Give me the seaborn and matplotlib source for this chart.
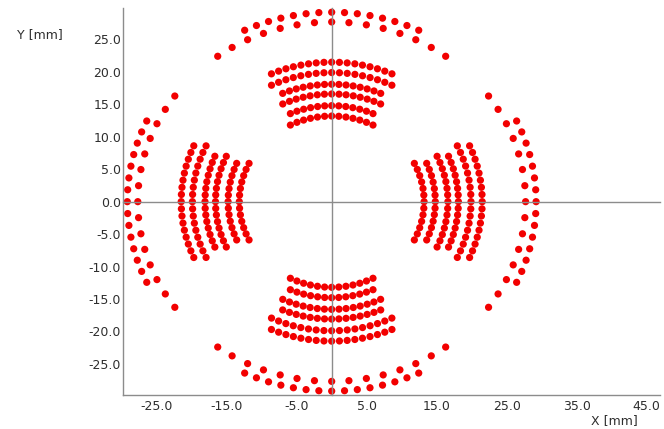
import numpy as np
import pandas as pd
import matplotlib
matplotlib.use("Agg")
import matplotlib.pyplot as plt
from matplotlib.ticker import FixedLocator, NullFormatter
import seaborn as sns

# Outer ring: two staggered rows of holes, one arc segment on each side
ring_outer_radius = 29.2
ring_outer_angles = [-25.2, -21.6, -18.0, -14.4, -10.8, -7.2, -3.6, 0.0,
                     3.6, 7.2, 10.8, 14.4, 18.0, 21.6, 25.2]
ring_inner_radius = 27.7
ring_inner_angles = [-36.0, -30.9, -25.7, -20.6, -15.4, -10.3, -5.1, 0.0,
                     5.1, 10.3, 15.4, 20.6, 25.7, 30.9, 36.0]

# Inner arc blocks: six rows each, outermost row first (angles in degrees)
arc_radii = [21.5, 19.9, 18.1, 16.6, 14.8, 13.2]
arc_angles = [
    [-23.6, -20.65, -17.7, -14.75, -11.8, -8.85, -5.9, -2.95, 0.0,
     2.95, 5.9, 8.85, 11.8, 14.75, 17.7, 20.65, 23.6],
    [-25.6, -22.4, -19.2, -16.0, -12.8, -9.6, -6.4, -3.2, 0.0,
     3.2, 6.4, 9.6, 12.8, 16.0, 19.2, 22.4, 25.6],
    [-22.75, -19.5, -16.25, -13.0, -9.75, -6.5, -3.25, 0.0,
     3.25, 6.5, 9.75, 13.0, 16.25, 19.5, 22.75],
    [-24.9, -21.3, -17.8, -14.2, -10.7, -7.1, -3.6, 0.0,
     3.6, 7.1, 10.7, 14.2, 17.8, 21.3, 24.9],
    [-23.5, -19.6, -15.7, -11.75, -7.8, -3.9, 0.0,
     3.9, 7.8, 11.75, 15.7, 19.6, 23.5],
    [-26.55, -22.1, -17.7, -13.3, -8.85, -4.4, 0.0,
     4.4, 8.85, 13.3, 17.7, 22.1, 26.55],
]

# The hole pattern repeats in four directions (degrees from +X)
group_directions = [0, 90, 180, 270]

x_major = [-25, -15, -5, 5, 15, 25, 35, 45]
x_major_labels = ["-25.0", "-15.0", "-5.0", "5.0", "15.0", "25.0", "35.0", "45.0"]
x_minor = [-20, -10, 0, 10, 20, 30, 40]
y_ticks = [-25, -20, -15, -10, -5, 0, 5, 10, 15, 20, 25]
y_labels = ["-25.0", "-20.0", "-15.0", "-10.0", "-5.0", "0.0",
            "5.0", "10.0", "15.0", "20.0", "25.0"]

# Collect all hole positions in polar form, then convert to X/Y in mm
records = []
for d in group_directions:
    for a in ring_outer_angles:
        records.append(("ring", ring_outer_radius, d + a))
    for a in ring_inner_angles:
        records.append(("ring", ring_inner_radius, d + a))
    for r, row in zip(arc_radii, arc_angles):
        for a in row:
            records.append(("arc", r, d + a))
holes = pd.DataFrame(records, columns=["group", "r", "theta"])
holes["x"] = holes["r"] * np.cos(np.deg2rad(holes["theta"]))
holes["y"] = holes["r"] * np.sin(np.deg2rad(holes["theta"]))

sns.set_style("white")
plt.rcParams["font.family"] = ["DejaVu Sans"]
plt.rcParams["axes.unicode_minus"] = False

W, H = 664, 429
fig = plt.figure(figsize=(W / 100, H / 100), dpi=100)
pos = [123.3 / W, 1 - 395 / H, (660 - 123.3) / W, (395 - 8) / H]
ax = fig.add_axes(pos)

dot_color = "#f20000"
sns.scatterplot(data=holes, x="x", y="y", color=dot_color, s=27,
                linewidth=0, edgecolor="none", legend=False, ax=ax,
                clip_on=False, zorder=2)

xlim = (-29.77, 46.9)
ylim = (-29.8, 29.85)
ax.set_xlim(*xlim)
ax.set_ylim(*ylim)
ax.set_xlabel("")
ax.set_ylabel("")

axis_gray = "#8c8c8c"
text_color = "#2e2e2e"
for side in ["top", "right"]:
    ax.spines[side].set_visible(False)
for side in ["left", "bottom"]:
    ax.spines[side].set_color(axis_gray)
    ax.spines[side].set_linewidth(1.0)

ax.xaxis.set_major_locator(FixedLocator(x_major))
ax.set_xticklabels(x_major_labels)
ax.xaxis.set_minor_locator(FixedLocator(x_minor))
ax.xaxis.set_minor_formatter(NullFormatter())
ax.yaxis.set_major_locator(FixedLocator(y_ticks))
ax.set_yticklabels(y_labels)

ax.tick_params(axis="x", which="major", direction="in", length=5.5, width=0.8,
               color=axis_gray, pad=3.5, labelsize=9, labelcolor=text_color)
ax.tick_params(axis="x", which="minor", direction="in", length=2.5, width=0.8,
               color=axis_gray)
ax.tick_params(axis="y", which="major", direction="in", length=8, width=0.8,
               color=axis_gray, pad=1.5, labelsize=9, labelcolor=text_color)

# Zero axes crossing at the origin, drawn over the holes
ax0 = fig.add_axes(pos)
ax0.patch.set_visible(False)
ax0.set_xlim(*xlim)
ax0.set_ylim(*ylim)
for side in ["top", "right"]:
    ax0.spines[side].set_visible(False)
ax0.spines["left"].set_position(("data", 0))
ax0.spines["bottom"].set_position(("data", 0))
for side in ["left", "bottom"]:
    ax0.spines[side].set_color(axis_gray)
    ax0.spines[side].set_linewidth(1.0)
ax0.xaxis.set_major_locator(FixedLocator(x_major))
ax0.xaxis.set_minor_locator(FixedLocator(x_minor))
ax0.yaxis.set_major_locator(FixedLocator(y_ticks))
ax0.tick_params(axis="x", which="major", direction="in", length=4.5, width=0.8,
                color=axis_gray, labelbottom=False)
ax0.tick_params(axis="x", which="minor", direction="in", length=2, width=0.8,
                color=axis_gray)
ax0.tick_params(axis="y", which="major", direction="in", length=7, width=0.8,
                color=axis_gray, labelleft=False)

fig.text(40 / W, 1 - 35 / H, "Y [mm]", ha="center", va="center",
         fontsize=9, color=text_color)
fig.text(614 / W, 1 - 421 / H, "X [mm]", ha="center", va="center",
         fontsize=9, color=text_color)

fig.savefig("out.png", dpi=100, facecolor="white")
